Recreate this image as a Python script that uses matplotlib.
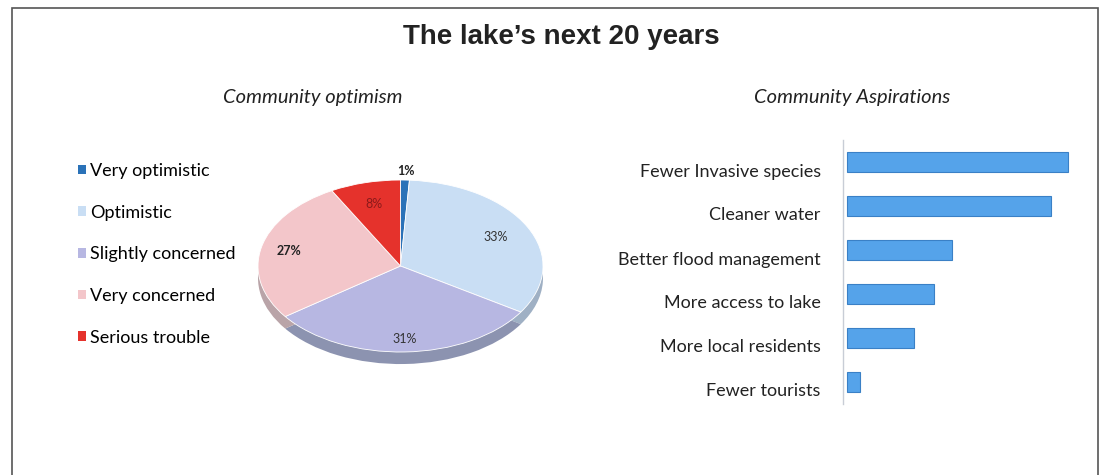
import matplotlib
matplotlib.use("Agg")
import matplotlib.pyplot as plt
from matplotlib.patches import Rectangle, Patch
import matplotlib.transforms as mtrans
import numpy as np

# ---- data ----
title = "The lake\u2019s next 20 years"
pie_title = "Community optimism"
pie_labels = ["Very optimistic", "Optimistic", "Slightly concerned", "Very concerned", "Serious trouble"]
pie_values = [1, 33, 31, 27, 8]
pie_colors = ["#2a72b8", "#c9def4", "#b7b7e2", "#f3c6ca", "#e5322c"]
pie_side_colors = ["#1d4f80", "#9fb0c4", "#8c93b0", "#b9a4a8", "#a02420"]

bar_title = "Community Aspirations"
bar_labels = ["Fewer Invasive species", "Cleaner water", "Better flood management",
              "More access to lake", "More local residents", "Fewer tourists"]
bar_values = [50, 46, 23.6, 19.7, 15.1, 3]

W, H = 1106, 475
fig = plt.figure(figsize=(W / 100, H / 100), dpi=100)
FONT = ["Lato", "DejaVu Sans"]

def box(x0, y0, x1, y1):
    return [x0 / W, 1 - y1 / H, (x1 - x0) / W, (y1 - y0) / H]

# border
fig.patches.append(Rectangle((12 / W, -0.02), (1098 - 12) / W, 1 - 8 / H + 0.02,
                             transform=fig.transFigure, fill=False, ec="#555555", lw=1.2))

fig.text(561 / W, 1 - 37 / H, title, ha="center", va="center", fontsize=20,
         fontweight="bold", family=["Liberation Sans", "DejaVu Sans"], color="#222222")
fig.text(313 / W, 1 - 98 / H, pie_title, ha="center", va="center", fontsize=14.5,
         style="italic", family=FONT, color="#222222")
fig.text(852 / W, 1 - 98 / H, bar_title, ha="center", va="center", fontsize=14.5,
         style="italic", family=FONT, color="#222222")

# ---- pie ----
depth = 0.14
ax = fig.add_axes(box(258, 180, 543, 352 + 86 * depth))
ax.pie(pie_values, colors=pie_side_colors, startangle=90, counterclock=False,
       radius=1, center=(0, -depth), wedgeprops=dict(lw=0))
wedges, _ = ax.pie(pie_values, colors=pie_colors, startangle=90, counterclock=False,
                   radius=1, center=(0, 0), wedgeprops=dict(lw=0.6, ec="white"))
ax.set_aspect("auto")
ax.set_xlim(-1, 1)
ax.set_ylim(-1 - depth, 1)
ax.axis("off")

total = sum(pie_values)
start = 90.0
lab_r = [1.1, 0.75, 0.85, 0.8, 0.75]
lab_col = ["#222222", "#333333", "#333333", "#222222", "#8b1a1a"]
lab_w = ["bold", "normal", "normal", "bold", "normal"]
for v, r, c, w in zip(pie_values, lab_r, lab_col, lab_w):
    mid = np.deg2rad(start - 360 * v / total / 2)
    start -= 360 * v / total
    ax.text(r * np.cos(mid), r * np.sin(mid), f"{v}%", ha="center", va="center",
            fontsize=9, color=c, fontweight=w, family=FONT, clip_on=False)

# legend
handles = [Patch(facecolor=c, edgecolor="none") for c in pie_colors]
fig.legend(handles, pie_labels, loc="upper left", bbox_to_anchor=(78 / W, 1 - 163 / H),
           frameon=False, prop=dict(family=FONT, size=13), handlelength=0.45,
           handleheight=0.45, handletextpad=0.2, labelspacing=1.42, borderpad=0,
           borderaxespad=0)

# ---- bars ----
bx = fig.add_axes(box(843, 140, 1080, 404))
y = np.arange(len(bar_values))
bx.barh(y, bar_values, height=0.47, left=0.9, color="#55a3ea", edgecolor="#3a80c6", lw=0.8)
bx.set_ylim(len(bar_values) - 0.5, -0.5)
bx.set_xlim(0, 53.5)
bx.set_yticks(y)
bx.set_yticklabels(bar_labels, family=FONT, fontsize=13, color="#222222")
bx.tick_params(axis="y", length=0, pad=16)
off = mtrans.ScaledTranslation(0, -8 / 100, fig.dpi_scale_trans)
for t in bx.get_yticklabels():
    t.set_transform(t.get_transform() + off)
bx.set_xticks([])
for s in ["top", "right", "bottom"]:
    bx.spines[s].set_visible(False)
bx.spines["left"].set_color("#c8cdd6")
bx.spines["left"].set_linewidth(1)

fig.savefig("out.png", dpi=100)
